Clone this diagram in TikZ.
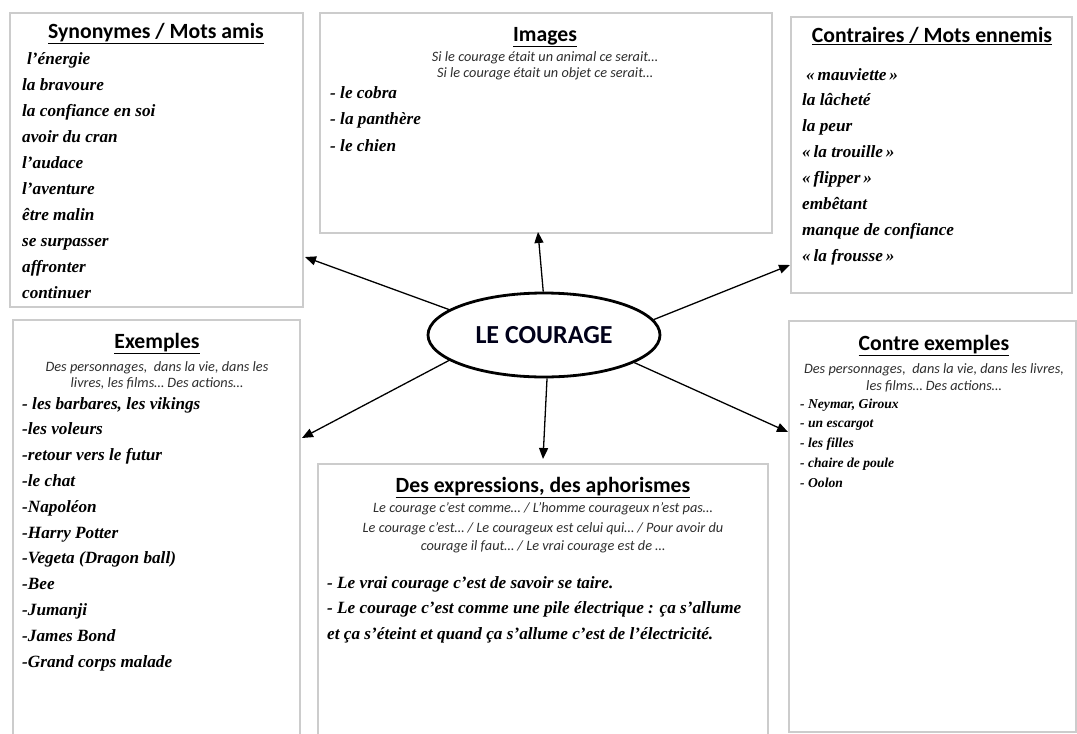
\documentclass[tikz,border=0pt]{standalone}
\usepackage{fontspec}
\setmainfont{Liberation Serif}
\newfontfamily\calib{Carlito}
\usetikzlibrary{arrows.meta,shapes.geometric}
\tikzset{
  boxline/.style={draw=black!20, line width=1.3pt},
  ttl/.style={font=\calib\bfseries\fontsize{21.7}{24}\selectfont, anchor=base, inner sep=0pt},
  subt/.style={font=\calib\itshape\fontsize{14.3}{16}\selectfont, text=black!82, anchor=base, inner sep=0pt},
  hw/.style={font=\bfseries\itshape\fontsize{17.2}{20}\selectfont, anchor=base west, inner sep=0pt},
  hws/.style={font=\bfseries\itshape\fontsize{13.6}{16}\selectfont, anchor=base west, inner sep=0pt},
  arr/.style={-{Triangle[length=11pt,width=9pt]}, line width=1.3pt},
}
\begin{document}
\begin{tikzpicture}[x=1pt,y=-1pt]
\useasboundingbox[fill=white] (0,0) rectangle (1077,734);

% boxes
\draw[boxline] (10,13) rectangle (303,307);
\draw[boxline] (320,13) rectangle (772,233);
\draw[boxline] (791,17) rectangle (1072,293);
\draw[boxline] (13,736) |- (300,320) -- (300,736);
\draw[boxline] (318,736) |- (768,464) -- (768,736);
\draw[boxline] (789,321) rectangle (1076,732);

% titles
\node[ttl] (tsyn) at (156,38) {\underline{Synonymes / Mots amis}};
\node[ttl] (timg) at (545,41) {\underline{Images}};
\node[ttl] (tcon) at (932,42) {\underline{Contraires / Mots ennemis}};
\node[ttl] (tex) at (157,348) {\underline{Exemples}};
\node[ttl] (tcex) at (934,350) {\underline{Contre exemples}};
\node[ttl] (texp) at (543,492) {\underline{Des expressions, des aphorismes}};

% subtitles
\node[subt] (simg1) at (545,61) {Si le courage était un animal ce serait…};
\node[subt] (simg2) at (545,77) {Si le courage était un objet ce serait…};
\node[subt] (sex1) at (157,371) {Des personnages,\ \ dans la vie, dans les};
\node[subt] (sex2) at (157,387) {livres, les films… Des actions…};
\node[subt] (scex1) at (934,373) {Des personnages,\ \ dans la vie, dans les livres,};
\node[subt] (scex2) at (934,390) {les films… Des actions…};
\node[subt] (sexp1) at (543,512) {Le courage c’est comme… / L’homme courageux n’est pas…};
\node[subt] (sexp2) at (543,532) {Le courage c’est… / Le courageux est celui qui… / Pour avoir du};
\node[subt] (sexp3) at (543,550) {courage il faut… / Le vrai courage est de …};

% lists
\foreach \t [count=\i from 0] in {{\hspace*{5pt}l’énergie},la bravoure,la confiance en soi,avoir du cran,l’audace,l’aventure,être malin,se surpasser,affronter,continuer}
  \node[hw] (syn\i) at (22,{64+26*\i}) {\t};

\foreach \t [count=\i from 0] in {- le cobra,- la panthère,- le chien}
  \node[hw] (img\i) at (330,{98+26.5*\i}) {\t};

\foreach \t [count=\i from 0] in {{\hspace*{4pt}«\,mauviette\,»},la lâcheté,la peur,«\,la trouille\,»,«\,flipper\,»,embêtant,manque de confiance,«\,la frousse\,»}
  \node[hw] (con\i) at (802,{80+25.9*\i}) {\t};

\foreach \t [count=\i from 0] in {{- les barbares, les vikings},-les voleurs,-retour vers le futur,-le chat,-Napoléon,-Harry Potter,-Vegeta (Dragon ball),-Bee,-Jumanji,-James Bond,-Grand corps malade}
  \node[hw] (ex\i) at (22,{409+25.8*\i}) {\t};

\foreach \t [count=\i from 0] in {{- Neymar, Giroux},- un escargot,- les filles,- chaire de poule,- Oolon}
  \node[hws] (cex\i) at (800,{408+19.8*\i}) {\t};

\node[hw] (exp0) at (327,588) {- Le vrai courage c’est de savoir se taire.};
\node[hw] (exp1) at (327,613) {- Le courage c’est comme une pile électrique : ça s’allume};
\node[hw] (exp2) at (327,639) {et ça s’éteint et quand ça s’allume c’est de l’électricité.};

% centre
\node[ellipse, draw, line width=2.8pt, minimum width=232pt, minimum height=84pt, inner sep=0pt,
      font=\calib\bfseries\fontsize{26}{28}\selectfont, text=black!90!blue] (ell) at (544,335) {LE COURAGE};

% arrow ends
\coordinate (asyn) at (305,257);
\coordinate (aimg) at (538,232);
\coordinate (acon) at (790,265);
\coordinate (aex) at (302,438);
\coordinate (aexp) at (543,459);
\coordinate (acex) at (788,432);

\draw[arr] (ell.165.5) -- (asyn);
\draw[arr] (ell.91) -- (aimg);
\draw[arr] (ell.8.6) -- (acon);
\draw[arr] (ell.195.6) -- (aex);
\draw[arr] (ell.274) -- (aexp);
\draw[arr] (ell.343.4) -- (acex);
\end{tikzpicture}
\end{document}
